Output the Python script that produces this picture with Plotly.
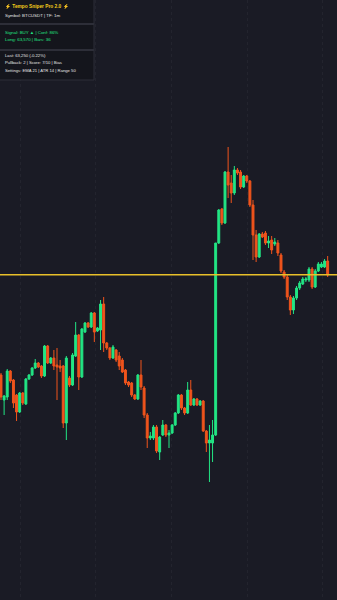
import plotly.graph_objects as go

# ---- data ----
opens = [62250, 62000, 62030, 62290, 62200, 62050, 61880, 62070, 61960, 62210,
         62250, 62320, 62370, 62340, 62240, 62540, 62370, 62420, 62350, 62340,
         62340, 61770, 62220, 62150, 62440, 62650, 62230, 62680, 62770, 62730,
         62870, 62690, 62700, 62960, 62570, 62520, 62420, 62500, 62440, 62400,
         62300, 62180, 62170, 62050, 62010, 62250, 62120, 61850, 61620, 61620,
         61730, 61480, 61650, 61750, 61650, 61670, 61750, 61870, 62050, 61920,
         61870, 62100, 61950, 62010, 61950, 61990, 61690, 61570, 61570, 61650,
         63570, 63910, 63770, 64280, 64170, 64070, 64300, 64280, 64130, 64240,
         64190, 63950, 63650, 63430, 63660, 63670, 63570, 63600, 63560, 63570,
         63450, 63280, 63230, 63030, 62900, 63020, 63120, 63160, 63200, 63200,
         63310, 63130, 63290, 63330, 63330, 63390]
highs = [62270, 62050, 62310, 62300, 62210, 62060, 62080, 62080, 62220, 62260,
         62330, 62410, 62380, 62350, 62550, 62550, 62430, 62500, 62520, 62400,
         62350, 62440, 62240, 62470, 62780, 62660, 62720, 62780, 62780, 62880,
         62880, 62730, 63000, 63030, 62580, 62530, 62550, 62510, 62480, 62420,
         62310, 62190, 62180, 62060, 62260, 62400, 62140, 61870, 61680, 61750,
         61750, 61640, 61800, 61760, 61700, 61760, 61880, 62060, 62060, 61930,
         62180, 62200, 62020, 62020, 62000, 62000, 61700, 61750, 61800, 63570,
         63910, 63920, 64290, 64530, 64250, 64340, 64320, 64300, 64250, 64250,
         64200, 64000, 63700, 63670, 63680, 63690, 63640, 63640, 63620, 63600,
         63470, 63300, 63250, 63050, 63040, 63140, 63190, 63230, 63230, 63330,
         63330, 63310, 63380, 63380, 63410, 63440]
lows = [62000, 61850, 62000, 62170, 61920, 61790, 61870, 61950, 61950, 62200,
        62240, 62310, 62320, 62220, 62230, 62360, 62360, 62300, 62000, 62280,
        61720, 61600, 62130, 62140, 62430, 62100, 62220, 62670, 62720, 62720,
        62580, 62680, 62500, 62480, 62500, 62400, 62410, 62380, 62300, 62270,
        62150, 62130, 62030, 62000, 62000, 62100, 61820, 61520, 61600, 61600,
        61470, 61400, 61640, 61630, 61520, 61660, 61740, 61860, 61900, 61850,
        61860, 61940, 61940, 61940, 61940, 61680, 61480, 61180, 61380, 61640,
        63560, 63750, 63760, 64020, 63970, 64050, 64250, 64110, 64120, 64170,
        63930, 63400, 63380, 63420, 63620, 63550, 63520, 63460, 63540, 63440,
        63270, 63210, 63000, 62850, 62860, 63000, 63100, 63150, 63180, 63180,
        63110, 63120, 63280, 63320, 63320, 63230]
closes = [62030, 62040, 62290, 62190, 61970, 61880, 62070, 61970, 62210, 62250,
          62320, 62370, 62330, 62240, 62540, 62370, 62420, 62340, 62330, 62320,
          61770, 62420, 62150, 62450, 62650, 62230, 62710, 62770, 62730, 62870,
          62680, 62720, 62960, 62570, 62520, 62420, 62530, 62400, 62340, 62280,
          62170, 62150, 62050, 62010, 62250, 62130, 61850, 61620, 61640, 61730,
          61490, 61630, 61750, 61650, 61670, 61750, 61870, 62050, 61920, 61870,
          62100, 61950, 62010, 61950, 61990, 61690, 61570, 61600, 61650, 63570,
          63900, 63770, 64280, 64150, 64070, 64300, 64270, 64130, 64240, 64190,
          63950, 63650, 63430, 63660, 63630, 63570, 63590, 63500, 63580, 63470,
          63290, 63230, 63030, 62900, 63020, 63120, 63170, 63210, 63210, 63310,
          63130, 63290, 63360, 63360, 63390, 63250]
bar_index = list(range(len(closes)))
ref_level = 63253

title_line = "⚡ Tempo Sniper Pro 2.0 ⚡"
info_lines = ["Symbol: BTCUSDT | TF: 1m"]
signal_lines = ["Signal: BUY ▲ | Conf: 86%", "Long: 63,570 | Bars: 36"]
stat_lines = ["Last: 63,250 (-0.22%)", "Pullback: 2 | Score: 7/10 | Bias", "Settings: EMA 21 | ATR 14 | Range 50"]

GREEN = "#22e584"
RED = "#f0541c"
BG = "#1a1b25"

fig = go.Figure()
fig.add_trace(go.Candlestick(
    x=bar_index, open=opens, high=highs, low=lows, close=closes,
    increasing=dict(line=dict(color=GREEN, width=1), fillcolor=GREEN),
    decreasing=dict(line=dict(color=RED, width=1), fillcolor=RED),
    whiskerwidth=0, hoverinfo="skip", showlegend=False,
))

fig.add_hline(y=ref_level, line=dict(color="#e8c02a", width=1.5))

# info panel
W = 337
H = 600
px = lambda v: v / W
py = lambda v: 1 - v / H
fig.add_shape(type="rect", xref="paper", yref="paper", x0=0, x1=px(94), y0=py(80), y1=1,
              fillcolor="rgba(20,21,28,0.9)", line=dict(width=0), layer="above")
for yy in (24, 50):
    fig.add_shape(type="line", xref="paper", yref="paper", x0=0, x1=px(94), y0=py(yy), y1=py(yy),
                  line=dict(color="#474955", width=1))
fig.add_shape(type="line", xref="paper", yref="paper", x0=px(94), x1=px(94), y0=py(80), y1=1,
              line=dict(color="#2c2e38", width=1))
fig.add_shape(type="line", xref="paper", yref="paper", x0=0, x1=px(94), y0=py(80), y1=py(80),
              line=dict(color="#2c2e38", width=1))

FONT = "Liberation Sans"
def txt(s, ypix, color, size, bold=False):
    fig.add_annotation(xref="paper", yref="paper", x=px(3), y=py(ypix), xanchor="left", yanchor="middle",
                       text=("<b>%s</b>" % s) if bold else s, showarrow=False,
                       font=dict(family=FONT, size=size, color=color))

txt(title_line, 6, "#f2cc1a", 4.8, bold=True)
txt(info_lines[0], 15, "#e6e6e6", 4.4)
for s, yy in zip(signal_lines, (32, 40)):
    txt(s, yy, GREEN, 4.4)
for s, yy in zip(stat_lines, (55, 63, 70)):
    txt(s, yy, "#e6e6e6", 4.2)

fig.update_layout(
    width=W, height=H, margin=dict(l=0, r=0, t=0, b=0),
    paper_bgcolor=BG, plot_bgcolor=BG,
    xaxis=dict(range=[-0.32, 108.0], rangeslider=dict(visible=False), showticklabels=False,
               showgrid=True, gridcolor="rgba(255,255,255,0.045)", griddash="dot", gridwidth=1,
               tick0=6.2, dtick=24.3, zeroline=False, showline=False, ticks=""),
    yaxis=dict(range=[60000, 66000], showticklabels=False, showgrid=False, zeroline=False,
               showline=False, ticks=""),
    boxgap=0.12,
)

fig.write_html("out.html")
